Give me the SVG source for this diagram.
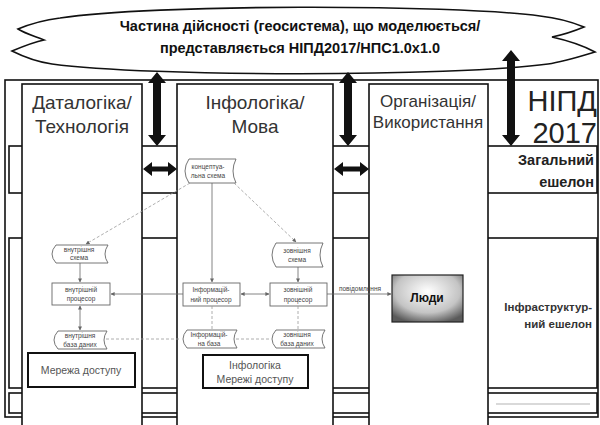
<svg xmlns="http://www.w3.org/2000/svg" width="600" height="425" viewBox="0 0 600 425">
<defs>
<style>
.frame{fill:#fff;stroke:#111;stroke-width:1.6}
.band{fill:#fff;stroke:#111;stroke-width:1.6}
.col{fill:#fff;stroke:#111;stroke-width:1.6}
.hdr{font-family:"Liberation Sans",Arial,sans-serif;font-size:19px;fill:#333;text-anchor:middle}
.hdr2{font-family:"Liberation Sans",Arial,sans-serif;font-size:17px;fill:#333;text-anchor:middle}
.big{font-family:"Liberation Sans",Arial,sans-serif;font-size:29px;fill:#222;text-anchor:end}
.ech{font-family:"Liberation Sans",Arial,sans-serif;font-size:14.5px;font-weight:bold;fill:#222;text-anchor:end}
.ech2{font-family:"Liberation Sans",Arial,sans-serif;font-size:11.5px;font-weight:bold;fill:#333;text-anchor:end}
.cloudt{font-family:"Liberation Sans",Arial,sans-serif;font-size:14.5px;font-weight:bold;fill:#111;text-anchor:middle}
.tiny{font-family:"Liberation Sans",Arial,sans-serif;font-size:6.5px;fill:#444;text-anchor:middle}
.box{fill:#fff;stroke:#666;stroke-width:0.9}
.tape{fill:#fff;stroke:#666;stroke-width:0.9}
.net{fill:#fff;stroke:#111;stroke-width:2}
.nett{font-family:"Liberation Sans",Arial,sans-serif;font-size:10.5px;fill:#555;text-anchor:middle}
.ln{fill:none;stroke:#666;stroke-width:0.8}
.dl{fill:none;stroke:#999;stroke-width:0.8;stroke-dasharray:3,2}
.thick{fill:#111;stroke:none}
</style>
<marker id="ah" viewBox="0 0 10 10" refX="9" refY="5" markerWidth="5" markerHeight="5" orient="auto-start-reverse">
<path d="M0,0 L10,5 L0,10 z" fill="#666"/>
</marker>
<radialGradient id="people" cx="50%" cy="35%" r="70%">
<stop offset="0" stop-color="#ffffff"/>
<stop offset="0.65" stop-color="#c4c4c4"/>
<stop offset="1" stop-color="#5a5a5a"/>
</radialGradient>
</defs>

<g id="cloud">
<path d="M60,18 C150,4 450,4 540,16 C558,18 572,22 584,27 C572,32 562,35 552,37 C570,41 584,46 595,52 C575,58 562,62 548,64 C450,77 150,77 52,64 C38,62 24,57 12,51 C24,46 34,42 44,40 C34,36 24,33 18,29 C30,24 44,20 60,18 Z" fill="#fff" stroke="#111" stroke-width="1.6"/>
<text class="cloudt" x="300" y="31">Частина дійсності (геосистема), що моделюється/</text>
<text class="cloudt" x="300" y="53">представляється НІПД2017/НПС1.0x1.0</text>
</g>

<g id="frame">
<rect class="frame" x="5" y="80" width="593" height="337"/>
</g>

<g id="bands">
<rect class="band" x="9" y="146" width="588" height="47"/>
<rect class="band" x="9" y="238" width="588" height="150"/>
<rect class="band" x="9" y="393" width="588" height="20"/>
<line x1="496" y1="404" x2="590" y2="404" stroke="#ccc" stroke-width="1.5"/>
</g>

<g id="col-datalogic">
<rect class="col" x="22" y="84" width="120" height="345"/>
<text class="hdr" x="82" y="109">Даталогіка/</text>
<text class="hdr" x="82" y="133">Технологія</text>
</g>

<g id="col-infologic">
<rect class="col" x="177" y="84" width="156" height="345"/>
<text class="hdr" x="255" y="109">Інфологіка/</text>
<text class="hdr" x="255" y="133">Мова</text>
</g>

<g id="col-organization">
<rect class="col" x="369" y="84" width="119" height="345"/>
<text class="hdr2" x="428" y="107">Організація/</text>
<text class="hdr2" x="428" y="128">Використання</text>
</g>

<g id="nipd">
<text class="big" x="597" y="111">НІПД</text>
<text class="big" x="597" y="143">2017</text>
</g>

<g id="general-echelon">
<text class="ech" x="594" y="165">Загальний</text>
<text class="ech" x="594" y="187">ешелон</text>
</g>

<g id="infra-echelon">
<text class="ech2" x="592" y="311">Інфраструктур-</text>
<text class="ech2" x="592" y="328">ний ешелон</text>
</g>

<g id="concept-schema">
<path class="tape" d="M189,159 L236,159 Q230,171 236,183 L189,183 Q181,171 189,159 Z"/>
<text class="tiny" x="208" y="169">концептуа-</text>
<text class="tiny" x="208" y="178">льна схема</text>
</g>

<g id="internal-schema">
<path class="tape" d="M56,245 L108,245 Q102,254 108,263 L56,263 Q48,254 56,245 Z"/>
<text class="tiny" x="79" y="252">внутрішня</text>
<text class="tiny" x="79" y="260">схема</text>
</g>

<g id="external-schema">
<path class="tape" d="M276,243 L323,243 Q317,255 323,267 L276,267 Q268,255 276,243 Z"/>
<text class="tiny" x="297" y="253">зовнішня</text>
<text class="tiny" x="297" y="262">схема</text>
</g>

<g id="internal-processor">
<rect class="box" x="52" y="283" width="58" height="22"/>
<text class="tiny" x="81" y="292">внутрішній</text>
<text class="tiny" x="81" y="301">процесор</text>
</g>

<g id="info-processor">
<rect class="box" x="183" y="283" width="57" height="23"/>
<text class="tiny" x="211" y="292">Інформацій-</text>
<text class="tiny" x="211" y="302">ний процесор</text>
</g>

<g id="external-processor">
<rect class="box" x="270" y="283" width="57" height="23"/>
<text class="tiny" x="298" y="292">зовнішній</text>
<text class="tiny" x="298" y="302">процесор</text>
</g>

<g id="internal-db">
<path class="tape" d="M58,331 L107,331 Q101,340 107,349 L58,349 Q50,340 58,331 Z"/>
<text class="tiny" x="80" y="338">внутрішня</text>
<text class="tiny" x="80" y="347">база даних</text>
</g>

<g id="info-base">
<path class="tape" d="M187,330 L237,330 Q231,339 237,348 L187,348 Q179,339 187,330 Z"/>
<text class="tiny" x="209" y="337">Інформацій-</text>
<text class="tiny" x="209" y="346">на база</text>
</g>

<g id="external-db">
<path class="tape" d="M276,330 L325,330 Q319,339 325,348 L276,348 Q268,339 276,330 Z"/>
<text class="tiny" x="297" y="337">зовнішня</text>
<text class="tiny" x="297" y="346">база даних</text>
</g>

<g id="access-network">
<rect class="net" x="28" y="353" width="107" height="34"/>
<text class="nett" x="81" y="374">Мережа доступу</text>
</g>

<g id="infologic-access-network">
<rect class="net" x="203" y="355" width="105" height="33"/>
<text class="nett" x="255" y="369">Інфологіка</text>
<text class="nett" x="255" y="383">Мережі доступу</text>
</g>

<g id="people">
<rect x="392" y="275" width="71" height="47" fill="url(#people)" stroke="#222" stroke-width="1.2"/>
<text x="427" y="302" font-family="Liberation Sans, Arial, sans-serif" font-size="12" font-weight="bold" fill="#111" text-anchor="middle">Люди</text>
</g>

<g id="connectors">
<path class="thick" d="M157,72 L166,83 L161,83 L161,135 L166,135 L157,146 L148,135 L153,135 L153,83 L148,83 Z"/>
<path class="thick" d="M348,72 L357,83 L352,83 L352,135 L357,135 L348,146 L339,135 L344,135 L344,83 L339,83 Z"/>
<path class="thick" d="M511,50 L520,61 L515,61 L515,135 L520,135 L511,146 L502,135 L507,135 L507,61 L502,61 Z"/>
<path class="thick" d="M143,169 L152,162 L152,166.5 L168,166.5 L168,162 L177,169 L168,176 L168,171.5 L152,171.5 L152,176 Z"/>
<path class="thick" d="M334,169 L343,162 L343,166.5 L360,166.5 L360,162 L369,169 L360,176 L360,171.5 L343,171.5 L343,176 Z"/>
<line class="dl" x1="190" y1="183" x2="86" y2="244" marker-end="url(#ah)"/>
<line class="dl" x1="234" y1="183" x2="296" y2="242" marker-end="url(#ah)"/>
<line class="ln" x1="212" y1="183" x2="212" y2="282" marker-end="url(#ah)"/>
<line class="ln" x1="80" y1="263" x2="80" y2="282" marker-end="url(#ah)"/>
<line class="ln" x1="298" y1="267" x2="298" y2="282" marker-end="url(#ah)"/>
<line class="ln" x1="183" y1="294" x2="111" y2="294" marker-end="url(#ah)"/>
<line class="ln" x1="241" y1="294" x2="269" y2="294" marker-start="url(#ah)" marker-end="url(#ah)"/>
<line class="ln" x1="327" y1="294" x2="391" y2="294" marker-end="url(#ah)"/>
<text class="tiny" x="360" y="291">повідомлення</text>
<line class="ln" x1="80" y1="306" x2="80" y2="330" marker-start="url(#ah)" marker-end="url(#ah)"/>
<line class="dl" x1="212" y1="306" x2="212" y2="330"/>
<line class="dl" x1="298" y1="306" x2="298" y2="330"/>
<line class="dl" x1="106" y1="339" x2="181" y2="339"/>
<line class="dl" x1="236" y1="339" x2="270" y2="339"/>
</g>
</svg>
